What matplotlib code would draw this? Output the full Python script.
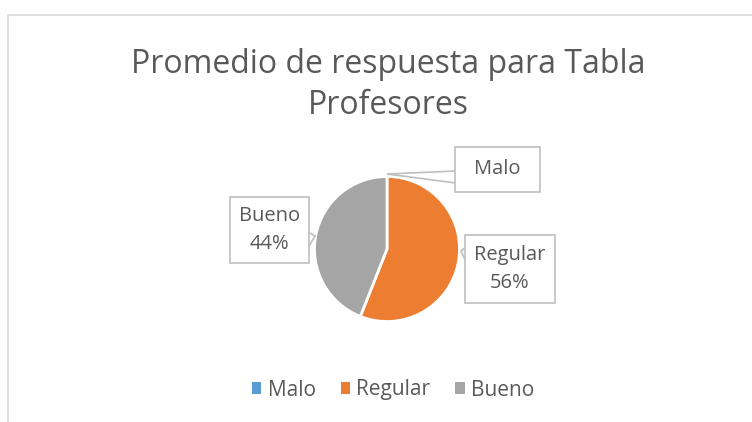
import matplotlib
matplotlib.use("Agg")
import matplotlib.pyplot as plt
from matplotlib.lines import Line2D
from matplotlib.patches import Patch, Polygon, Rectangle

categories = ["Malo", "Regular", "Bueno"]
values = [0, 56, 44]
colors = ["#5B9BD5", "#ED7D31", "#A5A5A5"]
title = "Promedio de respuesta para Tabla\nProfesores"

plt.rcParams['font.family'] = ['Open Sans', 'DejaVu Sans']
txt_color = "#595959"
line_color = "#BFBFBF"

fig = plt.figure(figsize=(7.52, 4.22), dpi=100)
ax = fig.add_axes([0, 0, 1, 1])

# chart frame (cut off at right and bottom)
ax.add_line(Line2D([8, 8, 752], [0, 407, 407], color="#D9D9D9", lw=1.2))

ax.text(388, 337, title, ha='center', va='center', fontsize=23,
        color=txt_color, linespacing=1.3)

cx, cy, r = 387, 173, 72.5
wedges, _ = ax.pie(values, colors=colors, startangle=90, counterclock=False,
                   center=(cx, cy), radius=r, frame=True,
                   wedgeprops=dict(edgecolor='white', linewidth=2))
ax.set_xlim(0, 752)
ax.set_ylim(0, 422)
ax.set_aspect('equal')
ax.axis('off')

# label boxes: (x0, y0, width, height) in pixel units, and callout pointer
boxes = {
    "Malo": ((455, 230, 85, 45), [(387, 248), (456, 251), (456, 239)]),
    "Regular": ((465, 119, 90, 68), [(461, 171), (466, 175), (466, 160)]),
    "Bueno": ((230, 159, 79, 66), [(315, 186), (308, 190), (308, 174)]),
}
total = sum(values)
for cat, v in zip(categories, values):
    (x0, y0, w, h), pts = boxes[cat]
    ax.add_patch(Polygon(pts, closed=True, fc='white', ec=line_color, lw=1.2, zorder=4))
    ax.add_patch(Rectangle((x0, y0), w, h, fc='white', ec=line_color, lw=1.2, zorder=5))
    if v == 0:
        s = cat
    else:
        s = "%s\n%d%%" % (cat, round(100 * v / total))
    ax.text(x0 + w / 2, y0 + h / 2, s, ha='center', va='center', fontsize=14.5,
            color=txt_color, linespacing=1.5, zorder=6)

handles = [Patch(facecolor=c, edgecolor='none') for c in colors]
ax.legend(handles, categories, loc='center', bbox_to_anchor=(393 / 752, 32 / 422),
          ncol=3, frameon=False, fontsize=15, labelcolor=txt_color,
          handlelength=0.45, handleheight=0.45, handletextpad=0.3, columnspacing=1.2)

plt.savefig('out.png', dpi=100)
